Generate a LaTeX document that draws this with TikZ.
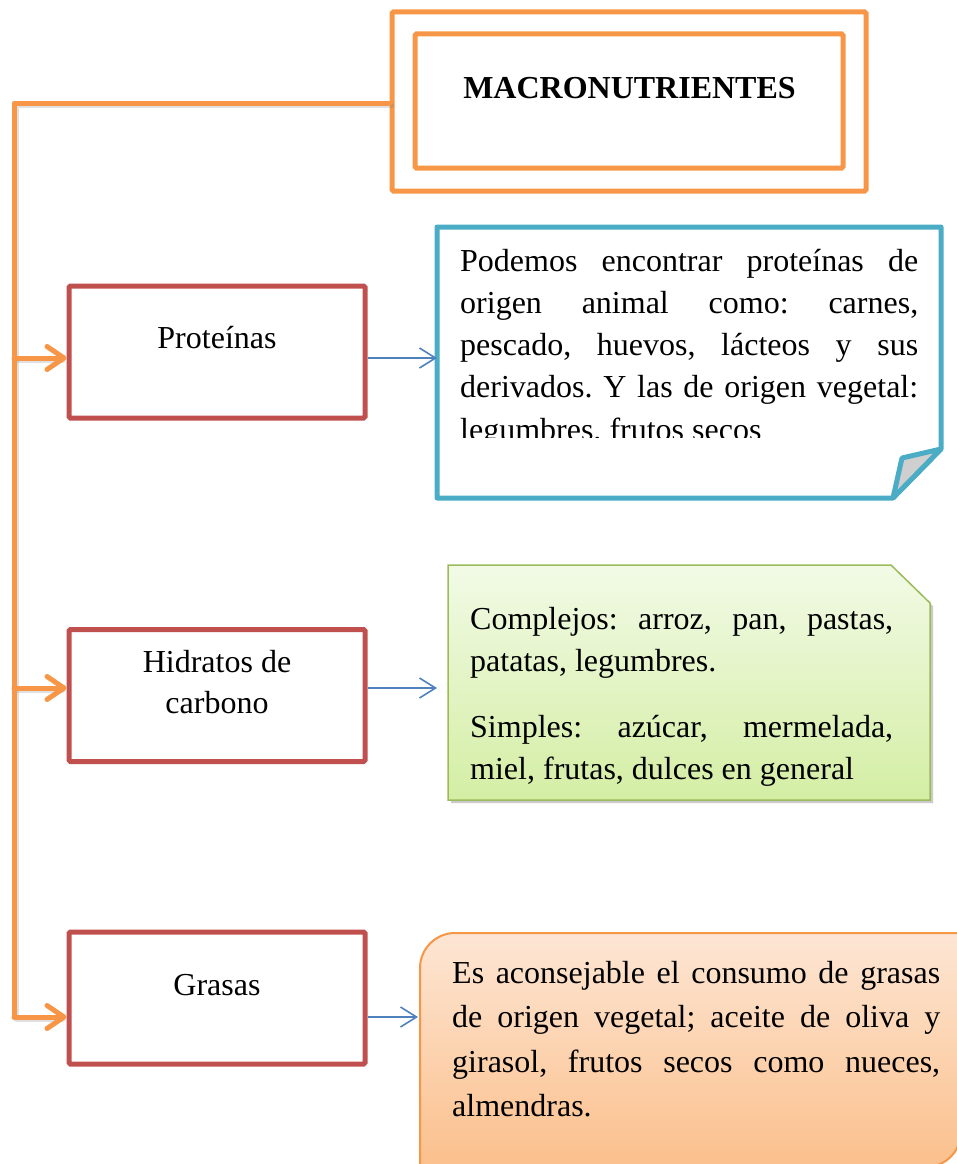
\documentclass[tikz,border=0pt]{standalone}
\usepackage{fontspec}
\setmainfont{Liberation Serif}
\frenchspacing
\usetikzlibrary{arrows.meta,shadows}
\definecolor{orn}{HTML}{F79646}
\definecolor{redb}{HTML}{C0504D}
\definecolor{blueb}{HTML}{4BACC6}
\definecolor{bluea}{HTML}{4F81BD}
\definecolor{greenb}{HTML}{9BBB59}
\definecolor{greentop}{HTML}{F2FAE6}
\definecolor{greenbot}{HTML}{D4EEA4}
\definecolor{orangetop}{HTML}{FDE6D4}
\definecolor{orangebot}{HTML}{FBBF8A}
\definecolor{foldgray}{HTML}{CFCFCF}
\begin{document}
\begin{tikzpicture}[x=1pt,y=-1pt,
  txt/.style={font=\fontsize{32}{42}\selectfont, inner sep=0pt, anchor=base west},
  ctxt/.style={font=\fontsize{32}{42}\selectfont, inner sep=0pt, anchor=base},
  hdr/.style={draw=orn, line width=5pt, rounded corners=1.5pt, inner sep=0pt},
  redbox/.style={draw=redb, line width=5pt, rounded corners=1.5pt, minimum width=296pt, minimum height=132pt, inner sep=0pt},
  conn/.style={draw=orn, line width=5pt, line cap=round, line join=round},
  connshadow/.style={draw=black!60, draw opacity=0.2, line width=5pt, line cap=round, line join=round},
  orarrow/.style={conn, -{Straight Barb[length=17pt,width=23pt,round]}},
  blarrow/.style={draw=bluea, line width=1.6pt, -{Straight Barb[length=16pt,width=20pt]}},
]
\useasboundingbox (0,0) rectangle (957,1164);

% header
\node[hdr, minimum width=474pt, minimum height=179pt] (outer) at (629,101.5) {};
\node[hdr, minimum width=428pt, minimum height=134pt] (inner) at (629,101) {};
\node[ctxt] (title) at (629.5,98) {\bfseries MACRONUTRIENTES};

% red boxes
\node[redbox] (prot) at (217,352) {};
\node[redbox] (hidr) at (217,695.5) {};
\node[redbox] (gras) at (217,998) {};
\node[ctxt] (protT) at (217,348) {Proteínas};
\node[ctxt] (hidrT1) at (217,672) {Hidratos de};
\node[ctxt] (hidrT2) at (217,713) {carbono};
\node[ctxt] (grasT) at (217,995) {Grasas};

% connectors
\coordinate (top) at (14,103);
\coordinate (j1) at (14,358);
\coordinate (j2) at (14,688);
\coordinate (j3) at (14,1017);
\begin{scope}[transform canvas={shift={(2pt,-2.5pt)}}]
\draw[connshadow] (top -| outer.west) -- (top) -- (j3) -- ([xshift=-6pt]j3 -| gras.west);
\draw[connshadow] (j1) -- ([xshift=-6pt]j1 -| prot.west);
\draw[connshadow] (j2) -- ([xshift=-6pt]j2 -| hidr.west);
\end{scope}
\draw[conn] (top -| outer.west) -- (top) -- (j3);
\draw[orarrow] (j1) -- (j1 -| prot.west);
\draw[orarrow] (j2) -- (j2 -| hidr.west);
\draw[orarrow] (j3) -- (j3 -| gras.west);

% blue note
\draw[blueb, line width=5pt, fill=white, line join=round]
  (437,227) -- (941,227) -- (941,449) -- (893,498) -- (437,498) -- cycle;
\draw[blueb, line width=5pt, fill=foldgray, line join=round]
  (941,449) -- (902,458) -- (893,498) -- cycle;
\coordinate (noteW) at (437,358);
\node[txt] (p1) at (460,271) {\makebox[458pt][s]{Podemos encontrar proteínas de}};
\node[txt] (p2) at (460,313) {\makebox[458pt][s]{origen animal como: carnes,}};
\node[txt] (p3) at (460,355.5) {\makebox[458pt][s]{pescado, huevos, lácteos y sus}};
\node[txt] (p4) at (460,397.5) {\makebox[458pt][s]{derivados. Y las de origen vegetal:}};
\begin{scope}
\clip (445,405) rectangle (930,437.5);
\node[txt] (p5) at (460,440) {legumbres, frutos secos};
\end{scope}

% green box
\path[draw=greenb, line width=1.5pt, top color=greentop, bottom color=greenbot,
  drop shadow={shadow xshift=3pt, shadow yshift=-3pt, opacity=0.35, fill=black!60}]
  (448,565) -- (891,565) -- (930,603) -- (930,800) -- (448,800) -- cycle;
\coordinate (greenW) at (437,688);
\node[txt] (c1) at (470,629) {\makebox[423pt][s]{Complejos: arroz, pan, pastas,}};
\node[txt] (c2) at (470,671) {patatas, legumbres.};
\node[txt] (c3) at (470,737) {\makebox[423pt][s]{Simples: azúcar, mermelada,}};
\node[txt] (c4) at (470,779) {miel, frutas, dulces en general};

% orange box
\path[draw=orn, line width=2pt, top color=orangetop, bottom color=orangebot]
  (420,1172) -- (420,968) .. controls (420,948.7) and (435.7,933) .. (455,933)
  -- (961,933) -- (961,1132) .. controls (961,1151.3) and (945.3,1167) .. (926,1167)
  -- (420,1167);
\coordinate (orW) at (418,1017);
\node[txt] (e1) at (452,983) {\makebox[488pt][s]{Es aconsejable el consumo de grasas}};
\node[txt] (e2) at (452,1027.5) {\makebox[488pt][s]{de origen vegetal; aceite de oliva y}};
\node[txt] (e3) at (452,1072) {\makebox[488pt][s]{girasol, frutos secos como nueces,}};
\node[txt] (e4) at (452,1116.5) {almendras.};

% blue arrows
\draw[blarrow] (j1 -| prot.east) -- (noteW);
\draw[blarrow] (j2 -| hidr.east) -- (greenW);
\draw[blarrow] (j3 -| gras.east) -- (orW);
\end{tikzpicture}
\end{document}
